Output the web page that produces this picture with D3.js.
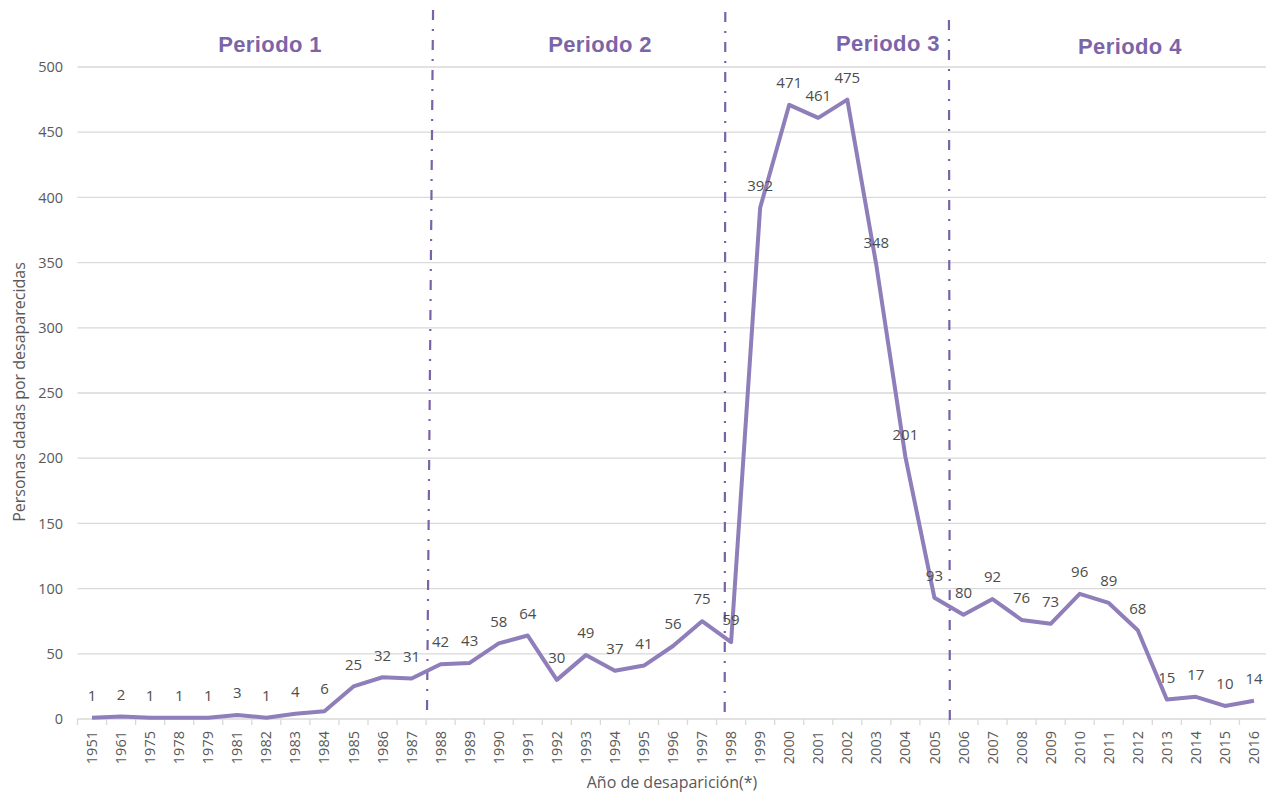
<!DOCTYPE html>
<html>
<head>
<meta charset="utf-8">
<script src="https://cdn.jsdelivr.net/npm/d3@7"></script>
<style>
  body { margin: 0; background: #fff; }
  text { font-family: "Open Sans", sans-serif; }
</style>
</head>
<body>
<div class="canvas"></div>
<script>
// datos
const years = ["1951", "1961", "1975", "1978", "1979", "1981", "1982", "1983", "1984", "1985",
    "1986", "1987", "1988", "1989", "1990", "1991", "1992", "1993", "1994", "1995",
    "1996", "1997", "1998", "1999", "2000", "2001", "2002", "2003", "2004", "2005",
    "2006", "2007", "2008", "2009", "2010", "2011", "2012", "2013", "2014", "2015", "2016"]
const personas = [1, 2, 1, 1, 1, 3, 1, 4, 6, 25,
    32, 31, 42, 43, 58, 64, 30, 49, 37, 41,
    56, 75, 59, 392, 471, 461, 475, 348, 201, 93,
    80, 92, 76, 73, 96, 89, 68, 15, 17, 10, 14]
const yTicks = [0, 50, 100, 150, 200, 250, 300, 350, 400, 450, 500]
const periodos = ["Periodo 1", "Periodo 2", "Periodo 3", "Periodo 4"]
// where each period label sits, in category steps
const periodoPos = [6.13, 17.49, 27.4, 35.73]
// period separators: [position at top, position at bottom] in category steps
const cortes = [[11.74, 11.53], [21.8, 21.78], [29.5, 29.53]]

const width = 1266
const height = 793

svg = d3.select(".canvas").append("svg")
    .attr("width", width)
    .attr("height", height)

const x = d3.scaleBand()
    .domain(years)
    .range([77.5, 1268.5])
    .paddingInner(0)
    .paddingOuter(0)

const y = d3.scaleLinear()
    .domain([0, 500])
    .range([719, 67])

const cx = d => x(d) + x.bandwidth() / 2
const fx = f => x.range()[0] + (f + 0.5) * x.step()

// gridlines
svg.append("g")
    .selectAll("line")
    .data(yTicks)
    .enter()
    .append("line")
    .attr("x1", 77.5)
    .attr("x2", width)
    .attr("y1", d => y(d))
    .attr("y2", d => y(d))
    .style("stroke", "#d9d9d9")
    .style("stroke-width", 1.3)

// y axis labels
svg.append("g")
    .attr("transform", "translate(63,0)")
    .call(d3.axisLeft(y).tickValues(yTicks).tickSize(0).tickPadding(0))
    .call(g => g.select(".domain").remove())
    .selectAll("text")
    .style("font-size", "14.5px")
    .style("fill", "#595959")

// x axis
const xAxis = svg.append("g")
    .attr("transform", "translate(0," + y(0) + ")")
    .call(d3.axisBottom(x).tickSize(0).tickPadding(0))
xAxis.select(".domain").remove()
xAxis.selectAll(".tick text")
    .attr("transform", "rotate(-90)")
    .attr("text-anchor", "end")
    .attr("x", -12)
    .attr("y", 0)
    .attr("dy", "0.35em")
    .style("font-size", "14.5px")
    .style("fill", "#595959")

// tick marks between the categories
svg.append("g")
    .selectAll("line")
    .data(d3.range(years.length + 1))
    .enter()
    .append("line")
    .attr("x1", i => x.range()[0] + i * x.step())
    .attr("x2", i => x.range()[0] + i * x.step())
    .attr("y1", y(0))
    .attr("y2", y(0) + 6)
    .style("stroke", "#d9d9d9")
    .style("stroke-width", 1.3)

// axis titles
svg.append("text")
    .attr("x", 672)
    .attr("y", 788)
    .attr("text-anchor", "middle")
    .style("font-size", "16px")
    .style("fill", "#595959")
    .text("Año de desaparición(*)")

svg.append("text")
    .attr("transform", "translate(25,392) rotate(-90)")
    .attr("text-anchor", "middle")
    .style("font-size", "16px")
    .style("fill", "#595959")
    .text("Personas dadas por desaparecidas")

// period separators
const cortesTop = [10, 12, 20]
const cortesBottom = [718, 720, 725]
svg.append("g")
    .selectAll("line")
    .data(cortes)
    .enter()
    .append("line")
    .attr("x1", d => fx(d[0]))
    .attr("x2", d => fx(d[1]))
    .attr("y1", (d, i) => cortesTop[i])
    .attr("y2", (d, i) => cortesBottom[i])
    .style("stroke", "#7a62a8")
    .style("stroke-width", 2.2)
    .style("stroke-dasharray", "10,9,2,9")

// period labels
const periodoY = [52, 52, 51, 54]
svg.append("g")
    .selectAll("text")
    .data(periodos)
    .enter()
    .append("text")
    .attr("x", (d, i) => fx(periodoPos[i]))
    .attr("y", (d, i) => periodoY[i])
    .attr("text-anchor", "middle")
    .style("font-family", "'Liberation Sans', Arial, sans-serif")
    .style("font-weight", "bold")
    .style("font-size", "22px")
    .style("letter-spacing", "0.4px")
    .style("fill", "#7b64a8")
    .text(d => d)

// line
const serie = years.map((d, i) => ({ year: d, value: personas[i] }))
const line = d3.line()
    .x(d => cx(d.year))
    .y(d => y(d.value))

svg.append("path")
    .datum(serie)
    .attr("d", line)
    .style("fill", "none")
    .style("stroke", "#8f7eba")
    .style("stroke-width", 4)
    .style("stroke-linejoin", "round")

// data labels
svg.append("g")
    .selectAll("text")
    .data(serie)
    .enter()
    .append("text")
    .attr("x", d => cx(d.year))
    .attr("y", d => y(d.value) - 22)
    .attr("dy", "0.35em")
    .attr("text-anchor", "middle")
    .style("font-size", "15px")
    .style("fill", "#4d4d4d")
    .text(d => d.value)
</script>
</body>
</html>
